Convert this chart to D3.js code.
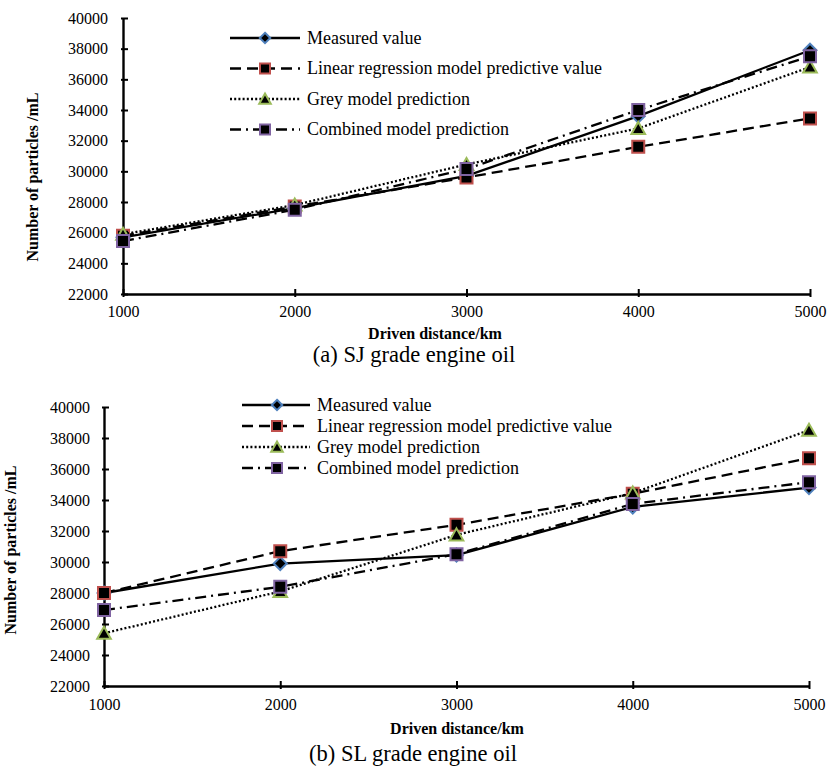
<!DOCTYPE html>
<html>
<head>
<meta charset="utf-8">
<script src="https://cdn.jsdelivr.net/npm/d3@7"></script>
<style>
  body { margin: 0; background: #fff; }
  svg { display: block; }
  text { font-family: "Liberation Serif", "Times New Roman", serif; fill: #000; }
  .axis text { font-size: 16px; }
</style>
</head>
<body>
<svg id="chart" width="828" height="769"></svg>
<script>
// Driven distance (km) on the x axis
const distances = [1000, 2000, 3000, 4000, 5000];
// Particle count axis ticks (per mL)
const particleTicks = [22000, 24000, 26000, 28000, 30000, 32000, 34000, 36000, 38000, 40000];
const seriesNames = [
  "Measured value",
  "Linear regression model predictive value",
  "Grey model prediction",
  "Combined model prediction"
];

// (a) SJ grade engine oil
const sjMeasured = [25700, 27600, 29700, 33600, 37900];
const sjLinear   = [25800, 27700, 29600, 31600, 33450];
const sjGrey     = [25900, 27800, 30450, 32800, 36800];
const sjCombined = [25450, 27500, 30150, 34000, 37500];

// (b) SL grade engine oil
const slMeasured = [28000, 29900, 30450, 33550, 34800];
const slLinear   = [28000, 30700, 32400, 34400, 36700];
const slGrey     = [25400, 28100, 31750, 34450, 38500];
const slCombined = [26900, 28400, 30500, 33750, 35150];

// Line and marker style for each series
const seriesStyles = [
  { dash: null,        marker: "diamond",  edge: "#4F81BD" },
  { dash: "11,6",      marker: "square",   edge: "#C0504D" },
  { dash: "2,2.2",     marker: "triangle", edge: "#9BBB59" },
  { dash: "11,5,2,5",  marker: "square",   edge: "#8064A2" }
];

function markerPath(type, s) {
  if (type === "square") return `M${-s},${-s}h${2*s}v${2*s}h${-2*s}Z`;
  if (type === "diamond") return `M0,${-s}L${s},0L0,${s}L${-s},0Z`;
  // triangle
  return `M0,${-s}L${s*1.05},${s*0.85}L${-s*1.05},${s*0.85}Z`;
}
const plotSize = { square: 6, diamond: 6.5, triangle: 6.5 };
const legendSize = { square: 5, diamond: 5.2, triangle: 5.5 };

const panels = [
  {
    caption: "(a) SJ grade engine oil",
    series: [sjMeasured, sjLinear, sjGrey, sjCombined],
    left: 123, right: 810, top: 18, bottom: 294,
    yPad: 15, xPad: 12,
    yTitle: { x: 32, y: 177 }, xTitle: { x: 435, y: 339 }, cap: { x: 414, y: 362 },
    legend: { x0: 230, x1: 300, xm: 265, xt: 307, y: 38, dy: 30.5 }
  },
  {
    caption: "(b) SL grade engine oil",
    series: [slMeasured, slLinear, slGrey, slCombined],
    left: 104, right: 809, top: 407, bottom: 686,
    yPad: 14, xPad: 13,
    yTitle: { x: 10, y: 550 }, xTitle: { x: 457, y: 734 }, cap: { x: 413, y: 761 },
    legend: { x0: 242, x1: 310, xm: 277, xt: 317, y: 405, dy: 21 }
  }
];

const svg = d3.select("#chart");

panels.forEach(p => {
  const g = svg.append("g");
  const x = d3.scaleLinear().domain([1000, 5000]).range([p.left, p.right]);
  const y = d3.scaleLinear().domain([22000, 40000]).range([p.bottom, p.top]);

  // y axis
  const yAxis = g.append("g").attr("class", "axis").attr("transform", `translate(${p.left},0)`)
    .call(d3.axisLeft(y).tickValues(particleTicks).tickSizeInner(-5).tickSizeOuter(0)
      .tickPadding(p.yPad).tickFormat(d3.format("d")));
  // x axis
  const xAxis = g.append("g").attr("class", "axis").attr("transform", `translate(0,${p.bottom})`)
    .call(d3.axisBottom(x).tickValues(distances).tickSizeInner(-5).tickSizeOuter(0)
      .tickPadding(p.xPad).tickFormat(d3.format("d")));
  xAxis.selectAll(".tick line").attr("y1", 3).attr("y2", -5);
  yAxis.selectAll(".tick line").attr("x1", -2).attr("x2", 5);
  [yAxis, xAxis].forEach(a => {
    a.attr("font-size", null).attr("font-family", null);
    a.select(".domain").attr("stroke", "#000").attr("stroke-width", 2.4);
    a.selectAll(".tick line").attr("stroke", "#000").attr("stroke-width", 2);
    a.selectAll(".tick text").attr("fill", "#000");
  });

  // axis titles
  g.append("text")
    .attr("transform", `translate(${p.yTitle.x},${p.yTitle.y}) rotate(-90)`)
    .attr("text-anchor", "middle").attr("dominant-baseline", "central")
    .attr("font-size", 16).attr("font-weight", "bold")
    .text("Number of particles /mL");
  g.append("text").attr("x", p.xTitle.x).attr("y", p.xTitle.y)
    .attr("text-anchor", "middle").attr("font-size", 16).attr("font-weight", "bold")
    .text("Driven distance/km");

  // caption
  g.append("text").attr("x", p.cap.x).attr("y", p.cap.y)
    .attr("text-anchor", "middle").attr("font-size", 22.5)
    .text(p.caption);

  // series lines and markers
  const line = d3.line().x((d, i) => x(distances[i])).y(d => y(d));
  p.series.forEach((vals, si) => {
    const st = seriesStyles[si];
    g.append("path").datum(vals).attr("d", line)
      .attr("fill", "none").attr("stroke", "#000").attr("stroke-width", 2.3)
      .attr("stroke-dasharray", st.dash);
    g.selectAll(null).data(vals).join("path")
      .attr("transform", (d, i) => `translate(${x(distances[i])},${y(d)})`)
      .attr("d", markerPath(st.marker, plotSize[st.marker]))
      .attr("fill", "#000").attr("stroke", st.edge).attr("stroke-width", 2);
  });

  // legend
  const lg = g.append("g");
  seriesNames.forEach((name, si) => {
    const st = seriesStyles[si];
    const ly = p.legend.y + si * p.legend.dy;
    lg.append("line").attr("x1", p.legend.x0).attr("x2", p.legend.x1)
      .attr("y1", ly).attr("y2", ly)
      .attr("stroke", "#000").attr("stroke-width", 2.3).attr("stroke-dasharray", st.dash);
    lg.append("path").attr("transform", `translate(${p.legend.xm},${ly})`)
      .attr("d", markerPath(st.marker, legendSize[st.marker]))
      .attr("fill", "#000").attr("stroke", st.edge).attr("stroke-width", 2);
    lg.append("text").attr("x", p.legend.xt).attr("y", ly)
      .attr("dy", "0.33em").attr("font-size", 18).text(name);
  });
});
</script>
</body>
</html>
